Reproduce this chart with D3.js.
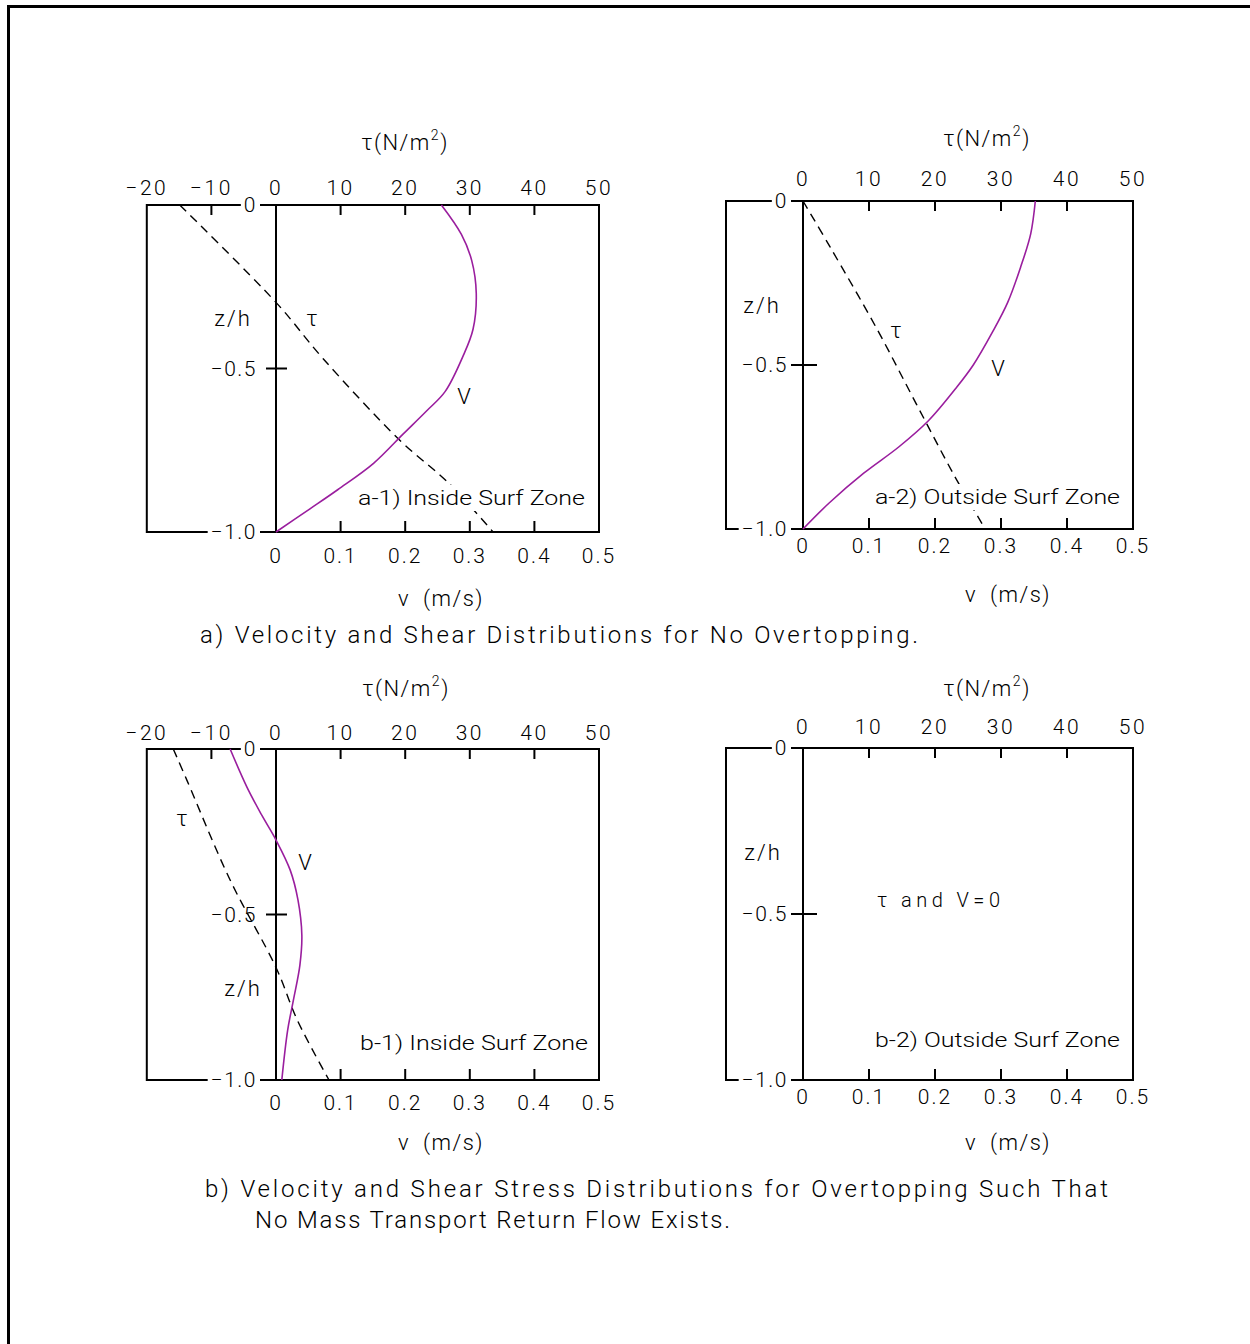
<!DOCTYPE html>
<html>
<head>
<meta charset="utf-8">
<script src="https://cdn.jsdelivr.net/npm/d3@7"></script>
<style>
  body { margin: 0; background: #fff; }
  svg text { font-family: Roboto, "DejaVu Sans", sans-serif; font-weight: 300; fill: #000; }
</style>
</head>
<body>
<svg id="chart" width="1250" height="1344"></svg>
<script>
// tick values
const vTicks = [0, 0.1, 0.2, 0.3, 0.4, 0.5];
const tauTicksIn = [-20, -10, 0, 10, 20, 30, 40, 50];
const tauTicksOut = [0, 10, 20, 30, 40, 50];
const zTicks = [0, -0.5, -1];

// a-1) inside surf zone, no overtopping
const a1VelZ = [0, -0.09, -0.17, -0.27, -0.38, -0.46, -0.57, -0.63, -0.70, -0.79, -0.87, -0.93, -1.0];
const a1Vel  = [0.256, 0.287, 0.303, 0.310, 0.305, 0.290, 0.262, 0.233, 0.197, 0.151, 0.096, 0.052, 0];
const a1TauZ = [0, -0.3, -0.47, -0.72, -0.85, -1];
const a1Tau  = [-14.9, 0.1, 7.3, 19.2, 26.7, 33.6];

// a-2) outside surf zone, no overtopping
const a2VelZ = [0, -0.10, -0.20, -0.31, -0.40, -0.50, -0.57, -0.67, -0.75, -0.83, -0.92, -1];
const a2Vel  = [0.352, 0.345, 0.330, 0.310, 0.287, 0.258, 0.232, 0.190, 0.145, 0.092, 0.040, 0];
const a2TauZ = [0, -0.14, -0.39, -0.62, -0.84, -1];
const a2Tau  = [0, 4.1, 11.2, 17.2, 23.0, 27.6];

// b-1) inside surf zone, overtopping
const b1VelZ = [0, -0.115, -0.20, -0.275, -0.366, -0.456, -0.562, -0.653, -0.758, -0.85, -1];
const b1Vel  = [-0.071, -0.045, -0.022, 0, 0.022, 0.034, 0.040, 0.037, 0.027, 0.018, 0.009];
const b1TauZ = [0, -0.094, -0.396, -0.66, -0.819, -1];
const b1Tau  = [-15.9, -13.8, -7.1, 0, 3.3, 8.2];

const purple = "#9a1e9e";

const svg = d3.select("#chart");

// outer frame (left and top only)
svg.append("path")
  .attr("d", "M8.5,1344V6.5H1250")
  .attr("fill", "none")
  .attr("stroke", "#000")
  .attr("stroke-width", 3);

const panels = [
  { axis: 276, right: 599, top: 205, bottom: 532, left: null, tauTicks: tauTicksIn,
    zTickLen: 10, zLabelGap: 19, topLab: -17, botLab: 24,
    tauTitle: [405, 142], vTitle: [441, 598], zh: [[233, 318]],
    vel: [a1VelZ, a1Vel], tau: [a1TauZ, a1Tau],
    curveLabels: [["τ", 312, 318], ["V", 464, 396]],
    name: ["a-1) Inside Surf Zone", 358, 498, 227] },
  { axis: 803, right: 1133, top: 201, bottom: 529, left: 726, tauTicks: tauTicksOut,
    zTickLen: 13, zLabelGap: 15, topLab: -22, botLab: 17,
    tauTitle: [987, 138], vTitle: [1008, 594], zh: [[762, 305]],
    vel: [a2VelZ, a2Vel], tau: [a2TauZ, a2Tau],
    curveLabels: [["τ", 896, 330], ["V", 998, 368]],
    name: ["a-2) Outside Surf Zone", 875, 497, 245] },
  { axis: 276, right: 599, top: 749, bottom: 1080, left: null, tauTicks: tauTicksIn,
    zTickLen: 10, zLabelGap: 19, topLab: -16, botLab: 23,
    tauTitle: [406, 688], vTitle: [441, 1142], zh: [[243, 988]],
    vel: [b1VelZ, b1Vel], tau: [b1TauZ, b1Tau],
    curveLabels: [["τ", 182, 818], ["V", 305, 862]],
    name: ["b-1) Inside Surf Zone", 360, 1043, 228] },
  { axis: 803, right: 1133, top: 748, bottom: 1080, left: 726, tauTicks: tauTicksOut,
    zTickLen: 13, zLabelGap: 15, topLab: -21, botLab: 17,
    tauTitle: [987, 688], vTitle: [1008, 1142], zh: [[763, 852]],
    vel: null, tau: null,
    curveLabels: [],
    note: ["τ and V=0", 877, 900, 123],
    name: ["b-2) Outside Surf Zone", 875, 1040, 245] }
];

function labelWithBg(g, txt, x, y, size, len, anchor) {
  const t = g.append("text")
    .attr("x", x).attr("y", y)
    .attr("dominant-baseline", "central")
    .attr("text-anchor", anchor || "start")
    .attr("font-size", size)
    .attr("letter-spacing", len ? null : 1.5)
    .text(txt);
  if (len) t.attr("textLength", len).attr("lengthAdjust", "spacingAndGlyphs");
  const bb = t.node().getBBox();
  g.insert("rect", () => t.node())
    .attr("x", bb.x - 3).attr("y", bb.y - 1)
    .attr("width", bb.width + 6).attr("height", bb.height + 2)
    .attr("fill", "#fff");
  return t;
}

panels.forEach(p => {
  const g = svg.append("g");
  const x = d3.scaleLinear().domain([0, 0.5]).range([p.axis, p.right]);
  const tx = d3.scaleLinear().domain([0, 50]).range([p.axis, p.right]);
  const y = d3.scaleLinear().domain([-1, 0]).range([p.bottom, p.top]);
  const left = p.left != null ? p.left : tx(-20);

  // box
  g.append("rect")
    .attr("x", left).attr("y", p.top)
    .attr("width", p.right - left).attr("height", p.bottom - p.top)
    .attr("fill", "none").attr("stroke", "#000").attr("stroke-width", 2);
  // z axis
  g.append("line")
    .attr("x1", p.axis).attr("x2", p.axis)
    .attr("y1", p.top).attr("y2", p.bottom)
    .attr("stroke", "#000").attr("stroke-width", 2);

  // top tau ticks (inside the box)
  const inner = p.tauTicks.filter(d => d !== 0 && d !== 50 && d !== -20);
  g.selectAll(".ttick").data(inner).enter().append("line")
    .attr("x1", d => tx(d)).attr("x2", d => tx(d))
    .attr("y1", p.top).attr("y2", p.top + 10)
    .attr("stroke", "#000").attr("stroke-width", 2);
  g.selectAll(".tlab").data(p.tauTicks).enter().append("text")
    .attr("x", d => tx(d)).attr("y", p.top + p.topLab)
    .attr("dominant-baseline", "central")
    .attr("text-anchor", "middle")
    .attr("font-size", 21)
    .attr("letter-spacing", 2.5)
    .text(d => d < 0 ? "−" + Math.abs(d) : d);

  // bottom v ticks
  g.selectAll(".vtick").data(vTicks.filter(d => d > 0 && d < 0.5)).enter().append("line")
    .attr("x1", d => x(d)).attr("x2", d => x(d))
    .attr("y1", p.bottom).attr("y2", p.bottom - 11)
    .attr("stroke", "#000").attr("stroke-width", 2);
  g.selectAll(".vlab").data(vTicks).enter().append("text")
    .attr("x", d => x(d)).attr("y", p.bottom + p.botLab)
    .attr("dominant-baseline", "central")
    .attr("text-anchor", "middle")
    .attr("font-size", 21)
    .attr("letter-spacing", 2)
    .text(d => d === 0 ? "0" : d.toFixed(1));

  // z ticks
  g.selectAll(".ztick").data(zTicks).enter().append("line")
    .attr("x1", p.axis - p.zTickLen)
    .attr("x2", d => d === -0.5 ? p.axis + p.zTickLen + 1 : p.axis)
    .attr("y1", d => y(d)).attr("y2", d => y(d))
    .attr("stroke", "#000").attr("stroke-width", 2);
  zTicks.forEach(d => {
    labelWithBg(g, d === 0 ? "0" : "−" + Math.abs(d).toFixed(1),
      p.axis - p.zLabelGap, y(d), 21, null, "end");
  });

  p.zh.forEach(([zx, zy]) => {
    g.append("text").attr("x", zx).attr("y", zy)
      .attr("dominant-baseline", "central").attr("text-anchor", "middle")
      .attr("font-size", 22).attr("letter-spacing", 2).text("z/h");
  });

  // axis titles
  const tt = g.append("text").attr("x", p.tauTitle[0]).attr("y", p.tauTitle[1])
    .attr("dominant-baseline", "central").attr("text-anchor", "middle")
    .attr("font-size", 22).attr("letter-spacing", 1.5);
  tt.append("tspan").text("τ(N/m");
  tt.append("tspan").attr("font-size", 14).attr("dy", -7).text("2");
  tt.append("tspan").attr("dy", 7).text(")");

  g.append("text").attr("x", p.vTitle[0]).attr("y", p.vTitle[1])
    .attr("dominant-baseline", "central").attr("text-anchor", "middle")
    .attr("font-size", 22).attr("letter-spacing", 1.5).attr("word-spacing", 6)
    .text("v (m/s)");

  // curves
  if (p.tau) {
    const tauPts = p.tau[0].map((z, i) => [p.tau[1][i], z]);
    g.append("path")
      .datum(tauPts)
      .attr("d", d3.line().x(d => tx(d[0])).y(d => y(d[1])).curve(d3.curveCatmullRom))
      .attr("fill", "none").attr("stroke", "#000")
      .attr("stroke-width", 1.4).attr("stroke-dasharray", "9,6");
  }
  if (p.vel) {
    const velPts = p.vel[0].map((z, i) => [p.vel[1][i], z]);
    g.append("path")
      .datum(velPts)
      .attr("d", d3.line().x(d => x(d[0])).y(d => y(d[1])).curve(d3.curveCatmullRom))
      .attr("fill", "none").attr("stroke", purple).attr("stroke-width", 1.6);
  }

  p.curveLabels.forEach(([t, lx, ly]) => {
    g.append("text").attr("x", lx).attr("y", ly)
      .attr("dominant-baseline", "central").attr("text-anchor", "middle")
      .attr("font-size", 22).text(t);
  });

  if (p.note) {
    g.append("text").attr("x", p.note[1]).attr("y", p.note[2])
      .attr("dominant-baseline", "central")
      .attr("font-size", 20).attr("textLength", p.note[3])
      .attr("lengthAdjust", "spacing").text(p.note[0]);
  }

  labelWithBg(g, p.name[0], p.name[1], p.name[2], 20, p.name[3]);
});

// captions
const captions = [
  ["a) Velocity and Shear Distributions for No Overtopping.", 200, 635, 718],
  ["b) Velocity and Shear Stress Distributions for Overtopping Such That", 205, 1189, 903],
  ["No Mass Transport Return Flow Exists.", 255, 1220, 475]
];
svg.selectAll(".cap").data(captions).enter().append("text")
  .attr("x", d => d[1]).attr("y", d => d[2])
  .attr("dominant-baseline", "central")
  .attr("font-size", 24)
  .attr("textLength", d => d[3])
  .attr("lengthAdjust", "spacing")
  .text(d => d[0]);
</script>
</body>
</html>
